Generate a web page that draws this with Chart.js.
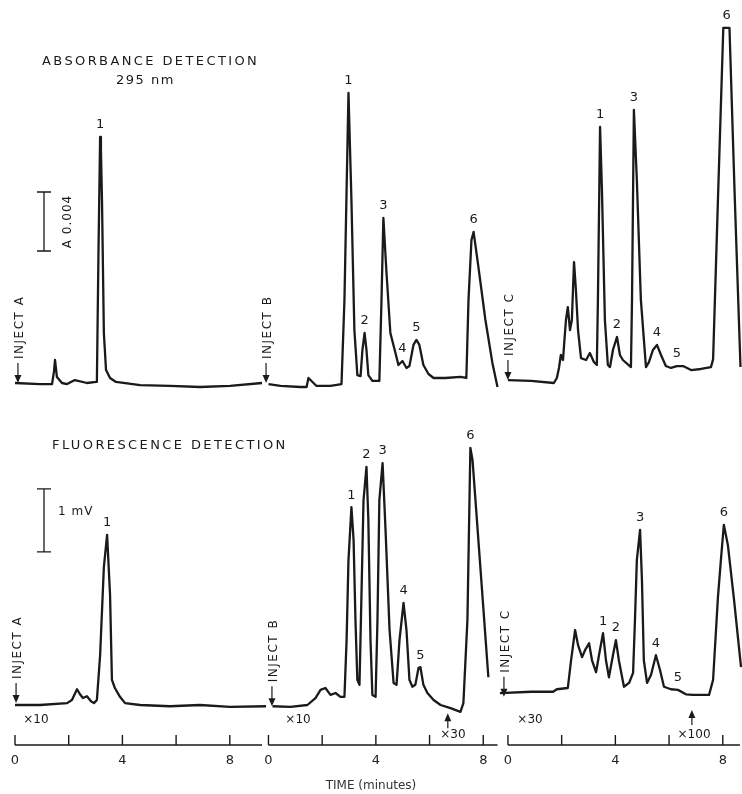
<!DOCTYPE html>
<html>
<head>
<meta charset="utf-8">
<script src="https://cdn.jsdelivr.net/npm/chart.js@4.4.1/dist/chart.umd.min.js"></script>
<style>
  html, body { margin: 0; padding: 0; background: #fff; }
  #wrap { position: relative; width: 742px; height: 794px; }
  #absChart { position: absolute; left: 0; top: 0; }
  #fluChart { position: absolute; left: 0; top: 400px; }
</style>
</head>
<body>
<div id="wrap">
  <canvas id="absChart" width="742" height="400"></canvas>
  <canvas id="fluChart" width="742" height="394"></canvas>
</div>
<script>
// start of each run (inject A, B, C) on the common time axis, minutes
const segOffsets = [0, 9.44, 18.36];
const segNames = ['A', 'B', 'C'];
const tickMinutes = [0, 2, 4, 6, 8];
const labelMinutes = [0, 4, 8];
const axisEnds = [9.2, 8.53, 8.64];

// absorbance at 295 nm (mAU), time in minutes after each injection
const absA_t = [0, 0.93, 1.38, 1.45, 1.49, 1.56, 1.75, 1.94, 2.23, 2.68, 3.02, 3.05, 3.11, 3.17, 3.20, 3.24, 3.31, 3.39, 3.54, 3.76, 4.66, 5.77, 6.89, 8.01, 9.20];
const absA_v = [0, -0.07, -0.07, 0.75, 1.56, 0.41, 0, -0.07, 0.20, 0, 0.07, 0.14, 9.02, 16.68, 15.80, 12.41, 3.39, 0.88, 0.34, 0.07, -0.14, -0.20, -0.27, -0.20, 0];

const absB_t = [0, 0.45, 1.19, 1.42, 1.49, 1.64, 1.79, 2.31, 2.72, 2.83, 2.98, 3.09, 3.20, 3.31, 3.43, 3.50, 3.58, 3.65, 3.72, 3.87, 4.13, 4.21, 4.28, 4.39, 4.54, 4.73, 4.84, 4.99, 5.14, 5.25, 5.40, 5.51, 5.62, 5.77, 5.96, 6.15, 6.59, 7.15, 7.37, 7.45, 7.56, 7.64, 7.82, 8.08, 8.34, 8.53];
const absB_v = [-0.07, -0.20, -0.27, -0.27, 0.34, 0.07, -0.20, -0.20, -0.07, 5.63, 19.66, 12.41, 3.59, 0.54, 0.47, 2.24, 3.39, 2.24, 0.54, 0.14, 0.14, 5.63, 11.19, 7.66, 3.39, 2.03, 1.22, 1.49, 1.02, 1.15, 2.58, 2.92, 2.58, 1.22, 0.61, 0.34, 0.34, 0.41, 0.34, 5.63, 9.69, 10.24, 7.86, 4.27, 1.36, -0.27];

const absC_t = [0, 0.86, 1.71, 1.82, 1.90, 1.97, 2.05, 2.09, 2.16, 2.23, 2.31, 2.38, 2.46, 2.53, 2.61, 2.72, 2.91, 3.05, 3.20, 3.31, 3.35, 3.43, 3.50, 3.61, 3.72, 3.80, 3.91, 4.06, 4.17, 4.28, 4.58, 4.62, 4.69, 4.80, 4.95, 5.14, 5.25, 5.40, 5.55, 5.70, 5.88, 6.07, 6.29, 6.52, 6.82, 7.19, 7.56, 7.64, 7.82, 8.02, 8.25, 8.45, 8.66];
const absC_v = [0.20, 0.14, 0, 0.34, 1.02, 1.90, 1.56, 2.58, 4.27, 5.15, 3.59, 4.27, 8.20, 6.31, 3.59, 1.69, 1.56, 2.03, 1.42, 1.22, 5.63, 17.36, 13.08, 4.27, 1.22, 1.08, 2.24, 3.12, 1.90, 1.56, 1.08, 5.63, 18.51, 13.76, 5.63, 1.08, 1.42, 2.24, 2.58, 1.90, 1.15, 1.02, 1.15, 1.15, 0.88, 0.95, 1.08, 1.60, 12.4, 24.07, 24.07, 12.4, 1.08];

// fluorescence (mV)
const fluA_t = [0, 0.93, 1.94, 2.12, 2.31, 2.42, 2.53, 2.68, 2.83, 2.94, 3.05, 3.17, 3.31, 3.43, 3.54, 3.61, 3.72, 3.91, 4.10, 4.66, 5.77, 6.89, 8.01, 9.35];
const fluA_v = [0, 0, 0.03, 0.08, 0.25, 0.17, 0.11, 0.14, 0.06, 0.03, 0.08, 0.79, 2.19, 2.70, 1.75, 0.40, 0.27, 0.13, 0.03, 0, -0.02, 0, -0.03, -0.02];

const fluB_t = [0.15, 0.82, 1.45, 1.75, 1.94, 2.12, 2.31, 2.50, 2.68, 2.83, 2.91, 2.98, 3.09, 3.17, 3.24, 3.31, 3.39, 3.46, 3.54, 3.65, 3.72, 3.80, 3.87, 3.99, 4.06, 4.13, 4.25, 4.36, 4.51, 4.66, 4.77, 4.88, 5.03, 5.14, 5.25, 5.36, 5.47, 5.59, 5.66, 5.77, 5.92, 6.15, 6.41, 6.78, 7.15, 7.26, 7.41, 7.52, 7.60, 7.90, 8.19];
const fluB_v = [-0.02, -0.03, 0, 0.11, 0.24, 0.27, 0.16, 0.19, 0.13, 0.13, 1.03, 2.30, 3.14, 2.62, 1.35, 0.40, 0.32, 1.67, 3.25, 3.78, 2.94, 1.03, 0.16, 0.13, 1.35, 3.25, 3.84, 2.78, 1.19, 0.35, 0.32, 1.03, 1.62, 1.19, 0.40, 0.29, 0.32, 0.59, 0.60, 0.32, 0.19, 0.08, 0, -0.05, -0.11, 0.03, 1.35, 4.08, 3.89, 2.14, 0.44];

const fluC_t = [-0.30, 0.86, 1.68, 1.82, 2.23, 2.35, 2.50, 2.61, 2.76, 2.87, 3.02, 3.13, 3.28, 3.39, 3.54, 3.65, 3.76, 3.91, 4.02, 4.13, 4.32, 4.51, 4.66, 4.73, 4.80, 4.92, 4.99, 5.06, 5.18, 5.33, 5.51, 5.66, 5.81, 6.07, 6.33, 6.63, 6.89, 7.49, 7.64, 7.82, 7.93, 8.04, 8.19, 8.42, 8.68];
const fluC_v = [0.19, 0.21, 0.21, 0.25, 0.27, 0.71, 1.19, 0.95, 0.76, 0.87, 0.98, 0.71, 0.52, 0.79, 1.14, 0.71, 0.44, 0.79, 1.03, 0.71, 0.29, 0.35, 0.51, 1.35, 2.30, 2.78, 1.98, 0.71, 0.35, 0.48, 0.79, 0.56, 0.29, 0.25, 0.24, 0.17, 0.16, 0.16, 0.40, 1.71, 2.30, 2.86, 2.54, 1.67, 0.60];

// peak numbers: [time, label]
const absPeaksA = [[3.17, '1']];
const absPeaksB = [[2.98, '1'], [3.58, '2'], [4.28, '3'], [4.99, '4'], [5.51, '5'], [7.64, '6']];
const absPeaksC = [[3.43, '1'], [4.06, '2'], [4.69, '3'], [5.55, '4'], [6.29, '5'], [8.14, '6']];
const fluPeaksA = [[3.43, '1']];
const fluPeaksB = [[3.09, '1'], [3.65, '2'], [4.25, '3'], [5.03, '4'], [5.66, '5'], [7.52, '6']];
const fluPeaksC = [[3.54, '1'], [4.02, '2'], [4.92, '3'], [5.51, '4'], [6.33, '5'], [8.04, '6']];

// inject marks: [run, time, value at arrow tip]
const absInjects = [[0, 0.11, 0], [1, -0.09, 0], [2, 0, 0.2]];
const fluInjects = [[0, 0.04, 0.03], [1, 0.13, -0.02], [2, -0.15, 0.13]];

// attenuation notes (fluorescence): [run, time, value, text]
const attenNotes = [[0, 0.78, -0.24, '×10'], [1, 1.10, -0.24, '×10'], [2, 0.82, -0.24, '×30'], [1, 6.87, -0.47, '×30'], [2, 6.93, -0.47, '×100']];
const attenArrows = [[1, 6.68, -0.13], [2, 6.85, -0.08]];

const INK = '#1a1a1a';
const FONT = '"DejaVu Sans", sans-serif';
const xMin = -15 / 26.85;
const xMax = 727 / 26.85;

function series(run, ts, vs) {
  return {
    data: ts.map((t, i) => ({ x: segOffsets[run] + t, y: vs[i] })),
    borderColor: INK,
    borderWidth: 2.3,
    borderJoinStyle: 'round',
    pointRadius: 0,
    tension: 0,
    fill: false
  };
}

function valueAt(ts, vs, t) {
  for (let i = 1; i < ts.length; i++) {
    if (ts[i] >= t) {
      const f = (t - ts[i - 1]) / (ts[i] - ts[i - 1]);
      return vs[i - 1] + f * (vs[i] - vs[i - 1]);
    }
  }
  return vs[vs.length - 1];
}

function text(ctx, str, x, y, o = {}) {
  ctx.save();
  ctx.font = (o.size || 12) + 'px ' + FONT;
  ctx.fillStyle = o.color || INK;
  ctx.letterSpacing = (o.spacing || 0) + 'px';
  ctx.textAlign = o.align || 'center';
  ctx.textBaseline = 'middle';
  ctx.translate(x, y);
  if (o.rot) ctx.rotate(o.rot);
  ctx.fillText(str, 0, 0);
  ctx.restore();
}

function drawInject(ctx, xs, ys, inj) {
  const [run, t, v] = inj;
  const x = xs.getPixelForValue(segOffsets[run] + t);
  const y = ys.getPixelForValue(v);
  ctx.save();
  ctx.strokeStyle = INK;
  ctx.fillStyle = INK;
  ctx.lineWidth = 1.2;
  ctx.beginPath(); ctx.moveTo(x, y - 20); ctx.lineTo(x, y - 6); ctx.stroke();
  ctx.beginPath(); ctx.moveTo(x - 3.5, y - 8); ctx.lineTo(x + 3.5, y - 8); ctx.lineTo(x, y); ctx.closePath(); ctx.fill();
  ctx.restore();
  text(ctx, 'INJECT ' + segNames[run], x + 2, y - 24, { size: 12, spacing: 1.5, rot: -Math.PI / 2, align: 'left' });
}

function drawPeaks(ctx, xs, ys, run, peaks, ts, vs) {
  peaks.forEach(([t, lab]) => {
    const x = xs.getPixelForValue(segOffsets[run] + t);
    const y = ys.getPixelForValue(valueAt(ts, vs, t));
    text(ctx, lab, x, y - 12, { size: 13 });
  });
}

function drawScaleBar(ctx, xs, ys, t, v0, v1) {
  const x = xs.getPixelForValue(t);
  const y0 = ys.getPixelForValue(v0), y1 = ys.getPixelForValue(v1);
  ctx.save();
  ctx.strokeStyle = INK;
  ctx.lineWidth = 1.3;
  ctx.beginPath();
  ctx.moveTo(x, y0); ctx.lineTo(x, y1);
  ctx.moveTo(x - 7, y0); ctx.lineTo(x + 7, y0);
  ctx.moveTo(x - 7, y1); ctx.lineTo(x + 7, y1);
  ctx.stroke();
  ctx.restore();
  return { x, y0, y1 };
}

const absNotes = {
  id: 'absNotes',
  afterDatasetsDraw(chart) {
    const { ctx } = chart;
    const xs = chart.scales.x, ys = chart.scales.y;
    text(ctx, 'ABSORBANCE DETECTION', 42, 62, { size: 13, spacing: 2.4, align: 'left' });
    text(ctx, '295 nm', 116, 81, { size: 13, spacing: 1.5, align: 'left' });
    const bar = drawScaleBar(ctx, xs, ys, 1.08, 8.95, 12.95);
    text(ctx, 'A 0.004', bar.x + 24, (bar.y0 + bar.y1) / 2, { size: 12, spacing: 1, rot: -Math.PI / 2 });
    absInjects.forEach(inj => drawInject(ctx, xs, ys, inj));
    drawPeaks(ctx, xs, ys, 0, absPeaksA, absA_t, absA_v);
    drawPeaks(ctx, xs, ys, 1, absPeaksB, absB_t, absB_v);
    drawPeaks(ctx, xs, ys, 2, absPeaksC, absC_t, absC_v);
  }
};

const fluNotes = {
  id: 'fluNotes',
  afterDatasetsDraw(chart) {
    const { ctx, chartArea } = chart;
    const xs = chart.scales.x, ys = chart.scales.y;
    text(ctx, 'FLUORESCENCE DETECTION', 52, 46, { size: 13, spacing: 2.4, align: 'left' });
    const bar = drawScaleBar(ctx, xs, ys, 1.08, 2.43, 3.43);
    text(ctx, '1 mV', bar.x + 14, ys.getPixelForValue(3.07), { size: 12, spacing: 1, align: 'left' });
    fluInjects.forEach(inj => drawInject(ctx, xs, ys, inj));
    drawPeaks(ctx, xs, ys, 0, fluPeaksA, fluA_t, fluA_v);
    drawPeaks(ctx, xs, ys, 1, fluPeaksB, fluB_t, fluB_v);
    drawPeaks(ctx, xs, ys, 2, fluPeaksC, fluC_t, fluC_v);
    attenNotes.forEach(([run, t, v, s]) => {
      text(ctx, s, xs.getPixelForValue(segOffsets[run] + t), ys.getPixelForValue(v), { size: 12 });
    });
    ctx.save();
    ctx.strokeStyle = INK;
    ctx.fillStyle = INK;
    ctx.lineWidth = 1.2;
    attenArrows.forEach(([run, t, v]) => {
      const x = xs.getPixelForValue(segOffsets[run] + t), y = ys.getPixelForValue(v);
      ctx.beginPath(); ctx.moveTo(x, y + 15); ctx.lineTo(x, y + 6); ctx.stroke();
      ctx.beginPath(); ctx.moveTo(x - 3.5, y + 8); ctx.lineTo(x + 3.5, y + 8); ctx.lineTo(x, y); ctx.closePath(); ctx.fill();
    });
    // broken time axis, one piece per run
    const yAxis = chartArea.bottom;
    ctx.lineWidth = 1.4;
    axisEnds.forEach((end, run) => {
      const x0 = xs.getPixelForValue(segOffsets[run]);
      const x1 = xs.getPixelForValue(segOffsets[run] + end);
      ctx.beginPath();
      ctx.moveTo(x0, yAxis); ctx.lineTo(x1, yAxis);
      tickMinutes.forEach(m => {
        const x = xs.getPixelForValue(segOffsets[run] + m);
        ctx.moveTo(x, yAxis); ctx.lineTo(x, yAxis - 10);
      });
      ctx.stroke();
    });
    ctx.restore();
  }
};

const axisTicks = [];
segOffsets.forEach(off => tickMinutes.forEach(m => axisTicks.push(off + m)));

new Chart(document.getElementById('absChart'), {
  type: 'line',
  data: {
    datasets: [
      series(0, absA_t, absA_v),
      series(1, absB_t, absB_v),
      series(2, absC_t, absC_v)
    ]
  },
  options: {
    responsive: false,
    animation: false,
    layout: { padding: 0 },
    plugins: { legend: { display: false }, tooltip: { enabled: false } },
    scales: {
      x: { type: 'linear', min: xMin, max: xMax, display: false },
      y: { min: -17 / 14.75, max: 383 / 14.75, display: false }
    }
  },
  plugins: [absNotes]
});

new Chart(document.getElementById('fluChart'), {
  type: 'line',
  data: {
    datasets: [
      series(0, fluA_t, fluA_v),
      series(1, fluB_t, fluB_v),
      series(2, fluC_t, fluC_v)
    ]
  },
  options: {
    responsive: false,
    animation: false,
    layout: { padding: 0 },
    plugins: { legend: { display: false }, tooltip: { enabled: false } },
    scales: {
      x: {
        type: 'linear',
        min: xMin,
        max: xMax,
        afterBuildTicks: (scale) => { scale.ticks = axisTicks.map(v => ({ value: v })); },
        afterFit: (scale) => { scale.height = 49; },
        grid: { display: false, drawTicks: false },
        border: { display: false },
        ticks: {
          autoSkip: false,
          maxRotation: 0,
          padding: 8,
          color: '#222',
          font: { family: FONT, size: 13 },
          callback: (v, i) => {
            const m = tickMinutes[i % tickMinutes.length];
            return labelMinutes.includes(m) ? String(m) : '';
          }
        },
        title: {
          display: true,
          text: 'TIME (minutes)',
          color: '#333',
          font: { family: FONT, size: 12 },
          padding: { top: 0, bottom: 1 }
        }
      },
      y: { min: -40 / 63, max: 305 / 63, display: false }
    }
  },
  plugins: [fluNotes]
});
</script>
</body>
</html>
